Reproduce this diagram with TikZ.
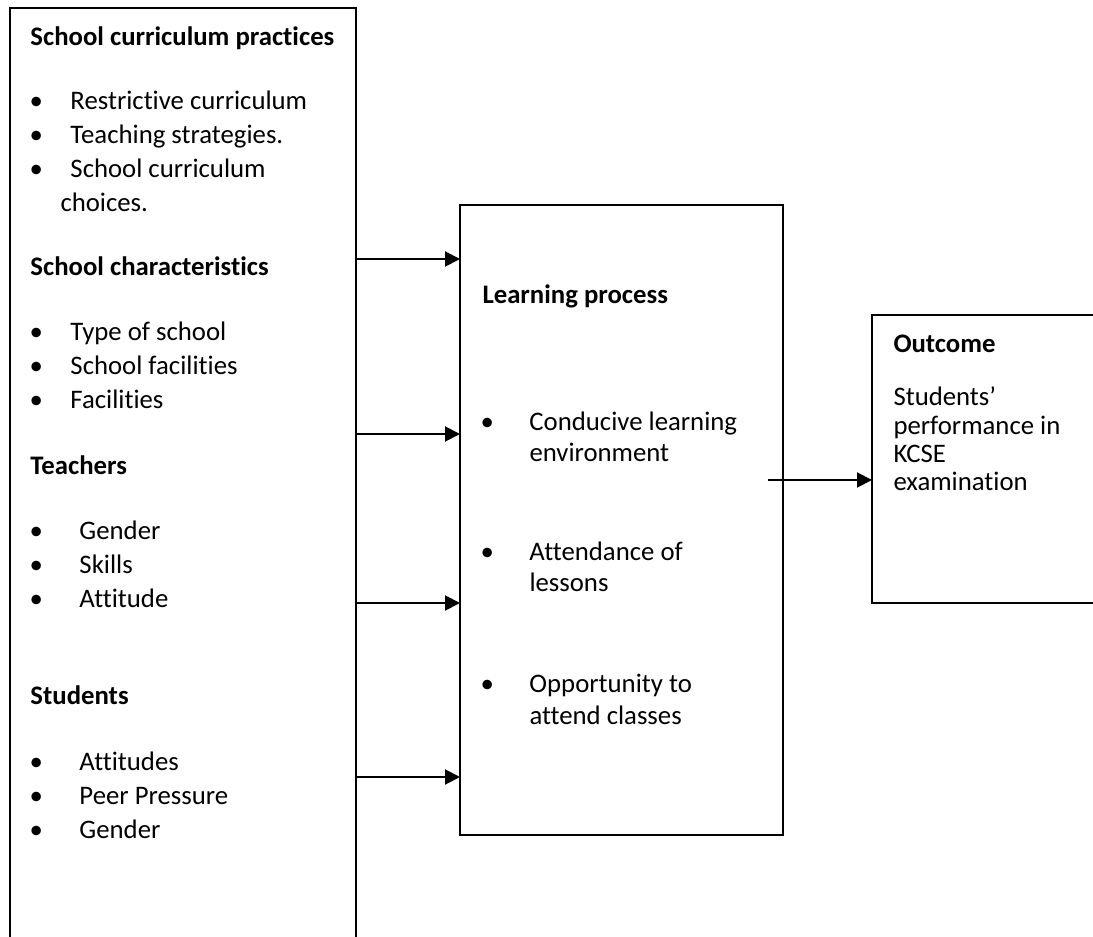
\documentclass[tikz,border=0pt]{standalone}
\usepackage{fontspec}
\setmainfont{Carlito}[Ligatures={TeX,NoCommon}]
\usetikzlibrary{positioning, arrows.meta}

\begin{document}
\begin{tikzpicture}[
    x=0.4pt, y=-0.4pt,
    % Styles
    box/.style={draw, line width=0.8pt, inner sep=0pt, outer sep=0pt, anchor=north west},
    head/.style={inner sep=0pt, anchor=base west, font=\fontsize{10.7}{13.6}\selectfont\bfseries},
    list/.style={inner sep=0pt, anchor=base west, font=\fontsize{10.7}{13.6}\selectfont},
    midlist/.style={list, font=\fontsize{10.7}{12.4}\selectfont},
    arrow/.style={-{Triangle[length=6pt, width=6pt]}, line width=0.8pt},
]
\clip (0,0) rectangle (1093,937);

% Boxes
\node[box, minimum width=138.4pt, minimum height=396.8pt] (factors) at (10,8) {};
\node[box, minimum width=129.2pt, minimum height=252pt] (learning) at (460,205) {};
\node[box, minimum width=99.2pt, minimum height=115.2pt] (outcome) at (872,315) {};

% Left box: independent variables
\node[head] (curr) at (30,46) {School curriculum practices};
\node[list] (currlist) at (29,110) {\begin{tabular}[t]{@{}p{16.4pt}@{}l@{}}
    \textbullet & Restrictive curriculum\\
    \textbullet & Teaching strategies.\\
    \textbullet & School curriculum\\
    & \hspace{-4pt}choices.
\end{tabular}};

\node[head] (chars) at (30,276) {School characteristics};
\node[list] (charslist) at (29,341) {\begin{tabular}[t]{@{}p{16.4pt}@{}l@{}}
    \textbullet & Type of school\\
    \textbullet & School facilities\\
    \textbullet & Facilities
\end{tabular}};

\node[head] (teach) at (30,475) {Teachers};
\node[list] (teachlist) at (29,540) {\begin{tabular}[t]{@{}p{20pt}@{}l@{}}
    \textbullet & Gender\\
    \textbullet & Skills\\
    \textbullet & Attitude
\end{tabular}};

\node[head] (stud) at (30,705) {Students};
\node[list] (studlist) at (29,770) {\begin{tabular}[t]{@{}p{20pt}@{}l@{}}
    \textbullet & Attitudes\\
    \textbullet & Peer Pressure\\
    \textbullet & Gender
\end{tabular}};

% Middle box: learning process
\node[head] (lphead) at (482,304) {Learning process};
\node[midlist] (lp1) at (480,431) {\begin{tabular}[t]{@{}p{19.6pt}@{}l@{}}
    \textbullet & Conducive learning\\ & environment
\end{tabular}};
\node[midlist] (lp2) at (480,561) {\begin{tabular}[t]{@{}p{19.6pt}@{}l@{}}
    \textbullet & Attendance of\\ & lessons
\end{tabular}};
\node[midlist] (lp3) at (480,693) {\begin{tabular}[t]{@{}p{19.6pt}@{}l@{}}
    \textbullet & Opportunity to\\ & attend classes
\end{tabular}};

% Right box: outcome
\node[head] (outhead) at (893,353) {Outcome};
\node[list, font=\fontsize{10.7}{11.3}\selectfont] (outtext) at (893,406) {\begin{tabular}[t]{@{}l@{}}
    Students'\\ performance in\\ KCSE\\ examination
\end{tabular}};

% Arrows
\coordinate (in1) at (0,259);
\coordinate (in2) at (0,434);
\coordinate (in3) at (0,603);
\coordinate (in4) at (0,777);
\coordinate (lpout) at (768,480);
\draw[arrow] (factors.east |- in1) -- (learning.west |- in1);
\draw[arrow] (factors.east |- in2) -- (learning.west |- in2);
\draw[arrow] (factors.east |- in3) -- (learning.west |- in3);
\draw[arrow] (factors.east |- in4) -- (learning.west |- in4);
\draw[arrow] (lpout) -- (outcome.west |- lpout);

\end{tikzpicture}
\end{document}
